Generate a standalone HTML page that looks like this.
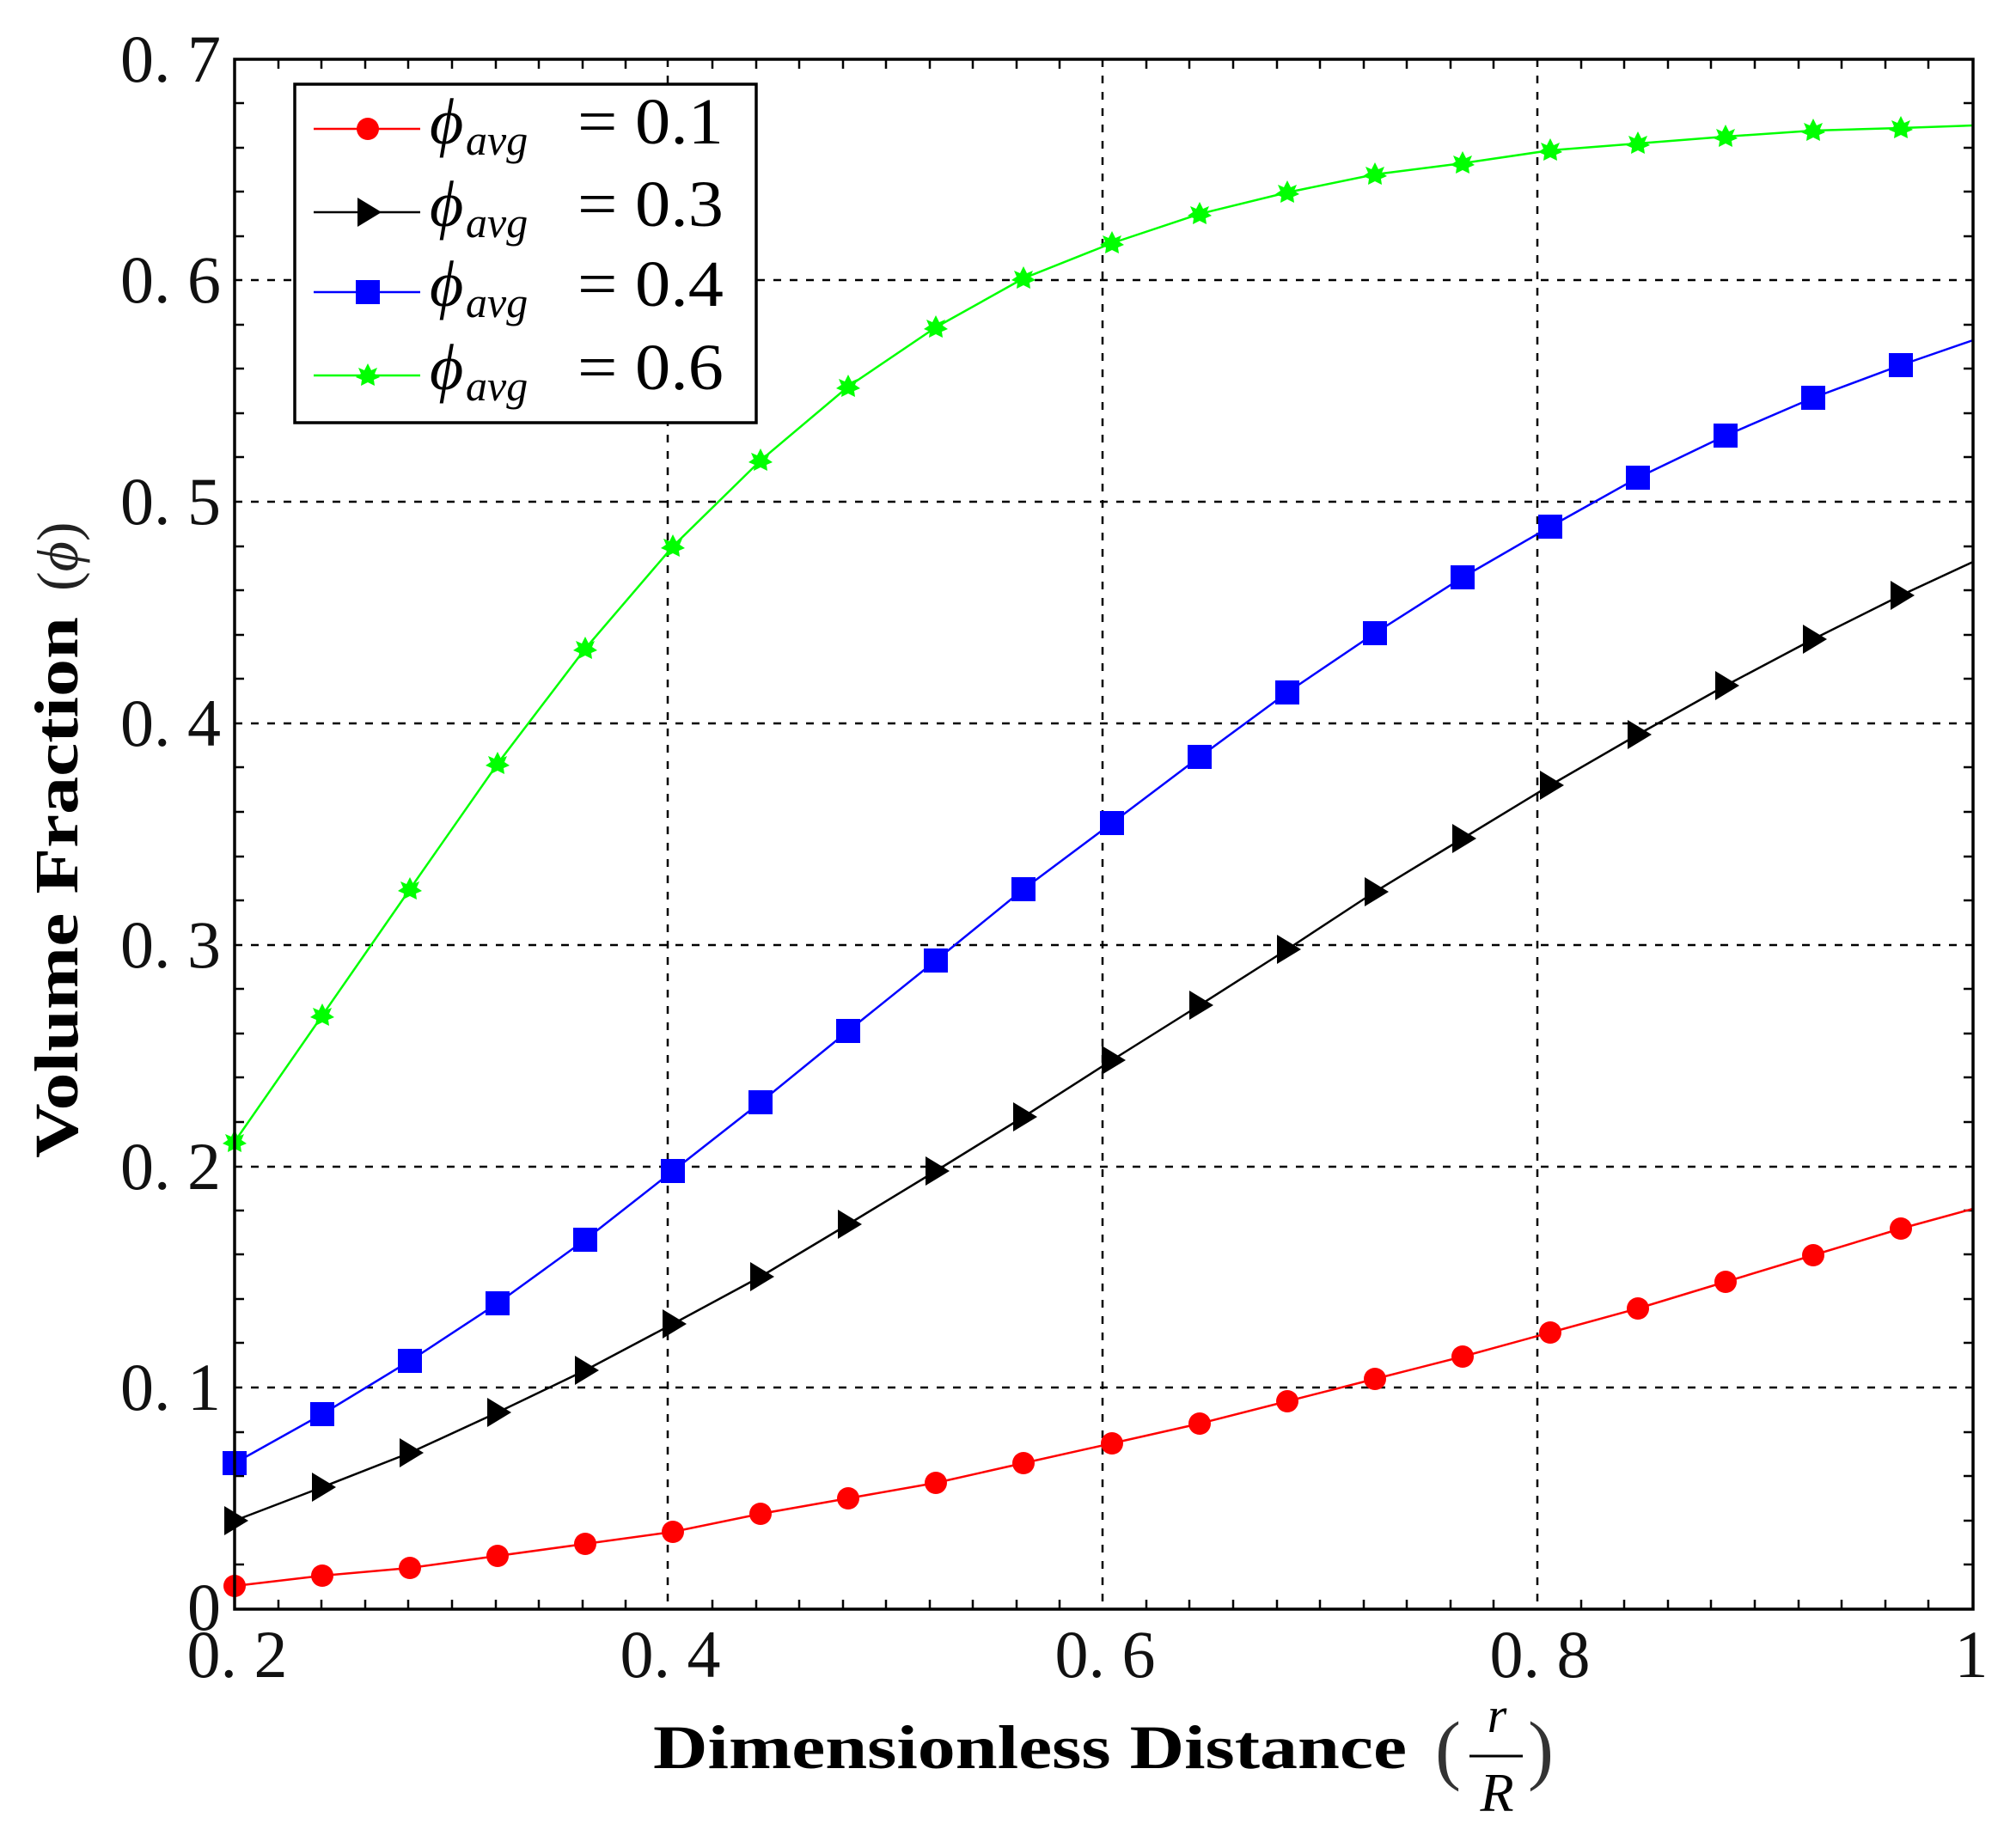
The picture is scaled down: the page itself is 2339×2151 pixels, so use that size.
<!DOCTYPE html>
<html><head><meta charset="utf-8"><style>
html,body{margin:0;padding:0;background:#fff;}
svg{display:block;}
</style></head><body>
<svg width="2339" height="2151" viewBox="0 0 2339 2151" xmlns="http://www.w3.org/2000/svg" font-family="Liberation Serif, serif">
<rect width="2339" height="2151" fill="#fff"/>
<defs>
<circle id="mc" r="13" fill="#f00"/>
<rect id="ms" x="-14" y="-14" width="28" height="28" fill="#00f"/>
<polygon id="mt" points="-12,-17 16,0 -12,17" fill="#000"/>
<polygon id="mg" points="0,-14 4,-6 11,-9 8,-2 14,2 7,5 8,12 0,8 -8,12 -7,5 -14,2 -8,-2 -11,-9 -4,-6" fill="#0f0"/>
</defs>
<g stroke="#000" stroke-width="2.5" stroke-dasharray="9,10" fill="none">
<line x1="777" y1="69" x2="777" y2="1873"/>
<line x1="1283" y1="69" x2="1283" y2="1873"/>
<line x1="1789" y1="69" x2="1789" y2="1873"/>
<line x1="273" y1="1615" x2="2296" y2="1615"/>
<line x1="273" y1="1358" x2="2296" y2="1358"/>
<line x1="273" y1="1100" x2="2296" y2="1100"/>
<line x1="273" y1="842" x2="2296" y2="842"/>
<line x1="273" y1="584" x2="2296" y2="584"/>
<line x1="273" y1="326" x2="2296" y2="326"/>
</g>
<g stroke="#000" stroke-width="2.5">
<path d="M324,1873v-11M374,1873v-11M425,1873v-11M475,1873v-11M526,1873v-11M577,1873v-11M627,1873v-11M678,1873v-11M728,1873v-11M829,1873v-11M880,1873v-11M930,1873v-11M981,1873v-11M1031,1873v-11M1082,1873v-11M1132,1873v-11M1183,1873v-11M1233,1873v-11M1334,1873v-11M1384,1873v-11M1435,1873v-11M1486,1873v-11M1536,1873v-11M1587,1873v-11M1637,1873v-11M1688,1873v-11M1738,1873v-11M1840,1873v-11M1890,1873v-11M1941,1873v-11M1991,1873v-11M2042,1873v-11M2093,1873v-11M2143,1873v-11M2194,1873v-11M2244,1873v-11"/>
<path d="M324,69v11M374,69v11M425,69v11M475,69v11M526,69v11M577,69v11M627,69v11M678,69v11M728,69v11M829,69v11M880,69v11M930,69v11M981,69v11M1031,69v11M1082,69v11M1132,69v11M1183,69v11M1233,69v11M1334,69v11M1384,69v11M1435,69v11M1486,69v11M1536,69v11M1587,69v11M1637,69v11M1688,69v11M1738,69v11M1840,69v11M1890,69v11M1941,69v11M1991,69v11M2042,69v11M2093,69v11M2143,69v11M2194,69v11M2244,69v11"/>
<path d="M273,1821h11M273,1770h11M273,1718h11M273,1667h11M273,1563h11M273,1512h11M273,1460h11M273,1409h11M273,1306h11M273,1254h11M273,1203h11M273,1151h11M273,1048h11M273,997h11M273,945h11M273,893h11M273,790h11M273,739h11M273,687h11M273,636h11M273,532h11M273,481h11M273,429h11M273,378h11M273,275h11M273,223h11M273,172h11M273,120h11"/>
<path d="M2296,1821h-11M2296,1770h-11M2296,1718h-11M2296,1667h-11M2296,1563h-11M2296,1512h-11M2296,1460h-11M2296,1409h-11M2296,1306h-11M2296,1254h-11M2296,1203h-11M2296,1151h-11M2296,1048h-11M2296,997h-11M2296,945h-11M2296,893h-11M2296,790h-11M2296,739h-11M2296,687h-11M2296,636h-11M2296,532h-11M2296,481h-11M2296,429h-11M2296,378h-11M2296,275h-11M2296,223h-11M2296,172h-11M2296,120h-11"/>
</g>
<g fill="none" stroke-width="2.5">
<polyline stroke="#f00" points="273,1846 375,1834 477,1825 579,1811 681,1797 783,1783 885,1762 987,1744 1089,1726 1191,1703 1294,1680 1396,1657 1498,1631 1600,1605 1702,1579 1804,1551 1906,1523 2008,1492 2110,1461 2212,1430 2296,1407"/>
<polyline stroke="#000" points="273,1770 375,1731 477,1691 579,1644 681,1595 783,1541 885,1486 987,1425 1089,1363 1191,1300 1294,1234 1396,1170 1498,1105 1600,1038 1702,976 1804,914 1906,855 2008,798 2110,744 2212,693 2296,654"/>
<polyline stroke="#00f" points="273,1703 375,1646 477,1584 579,1517 681,1443 783,1363 885,1283 987,1200 1089,1118 1191,1035 1294,958 1396,881 1498,806 1600,737 1702,672 1804,613 1906,556 2008,507 2110,463 2212,425 2296,396"/>
<polyline stroke="#0f0" points="273,1329 375,1182 477,1035 579,889 681,755 783,636 885,536 987,450 1089,381 1191,324 1294,283 1396,249 1498,224 1600,203 1702,190 1804,175 1906,167 2008,159 2110,152 2212,149 2296,146"/>
</g>
<g>
<use href="#mc" x="273" y="1846"/><use href="#mc" x="375" y="1834"/><use href="#mc" x="477" y="1825"/><use href="#mc" x="579" y="1811"/><use href="#mc" x="681" y="1797"/><use href="#mc" x="783" y="1783"/><use href="#mc" x="885" y="1762"/><use href="#mc" x="987" y="1744"/><use href="#mc" x="1089" y="1726"/><use href="#mc" x="1191" y="1703"/><use href="#mc" x="1294" y="1680"/><use href="#mc" x="1396" y="1657"/><use href="#mc" x="1498" y="1631"/><use href="#mc" x="1600" y="1605"/><use href="#mc" x="1702" y="1579"/><use href="#mc" x="1804" y="1551"/><use href="#mc" x="1906" y="1523"/><use href="#mc" x="2008" y="1492"/><use href="#mc" x="2110" y="1461"/><use href="#mc" x="2212" y="1430"/>
<use href="#mt" x="273" y="1770"/><use href="#mt" x="375" y="1731"/><use href="#mt" x="477" y="1691"/><use href="#mt" x="579" y="1644"/><use href="#mt" x="681" y="1595"/><use href="#mt" x="783" y="1541"/><use href="#mt" x="885" y="1486"/><use href="#mt" x="987" y="1425"/><use href="#mt" x="1089" y="1363"/><use href="#mt" x="1191" y="1300"/><use href="#mt" x="1294" y="1234"/><use href="#mt" x="1396" y="1170"/><use href="#mt" x="1498" y="1105"/><use href="#mt" x="1600" y="1038"/><use href="#mt" x="1702" y="976"/><use href="#mt" x="1804" y="914"/><use href="#mt" x="1906" y="855"/><use href="#mt" x="2008" y="798"/><use href="#mt" x="2110" y="744"/><use href="#mt" x="2212" y="693"/>
<use href="#ms" x="273" y="1703"/><use href="#ms" x="375" y="1646"/><use href="#ms" x="477" y="1584"/><use href="#ms" x="579" y="1517"/><use href="#ms" x="681" y="1443"/><use href="#ms" x="783" y="1363"/><use href="#ms" x="885" y="1283"/><use href="#ms" x="987" y="1200"/><use href="#ms" x="1089" y="1118"/><use href="#ms" x="1191" y="1035"/><use href="#ms" x="1294" y="958"/><use href="#ms" x="1396" y="881"/><use href="#ms" x="1498" y="806"/><use href="#ms" x="1600" y="737"/><use href="#ms" x="1702" y="672"/><use href="#ms" x="1804" y="613"/><use href="#ms" x="1906" y="556"/><use href="#ms" x="2008" y="507"/><use href="#ms" x="2110" y="463"/><use href="#ms" x="2212" y="425"/>
<use href="#mg" x="273" y="1329"/><use href="#mg" x="375" y="1182"/><use href="#mg" x="477" y="1035"/><use href="#mg" x="579" y="889"/><use href="#mg" x="681" y="755"/><use href="#mg" x="783" y="636"/><use href="#mg" x="885" y="536"/><use href="#mg" x="987" y="450"/><use href="#mg" x="1089" y="381"/><use href="#mg" x="1191" y="324"/><use href="#mg" x="1294" y="283"/><use href="#mg" x="1396" y="249"/><use href="#mg" x="1498" y="224"/><use href="#mg" x="1600" y="203"/><use href="#mg" x="1702" y="190"/><use href="#mg" x="1804" y="175"/><use href="#mg" x="1906" y="167"/><use href="#mg" x="2008" y="159"/><use href="#mg" x="2110" y="152"/><use href="#mg" x="2212" y="149"/>
</g>
<rect x="273" y="69" width="2023" height="1804" fill="none" stroke="#000" stroke-width="3.5"/>
<rect x="343" y="98" width="537" height="394" fill="#fff" stroke="#000" stroke-width="3.5"/>
<g stroke-width="2.5">
<line x1="365" y1="150" x2="489" y2="150" stroke="#f00"/><use href="#mc" x="428" y="150"/>
<line x1="365" y1="247" x2="489" y2="247" stroke="#000"/><use href="#mt" x="428" y="247"/>
<line x1="365" y1="340" x2="489" y2="340" stroke="#00f"/><use href="#ms" x="428" y="340"/>
<line x1="365" y1="437" x2="489" y2="437" stroke="#0f0"/><use href="#mg" x="428" y="437"/>
</g>
<g font-size="76" fill="#000">
<text x="500" y="167" font-style="italic">ϕ</text><text x="542" y="180" font-size="50" font-style="italic">avg</text><text x="672" y="167" textLength="170" lengthAdjust="spacingAndGlyphs">= 0.1</text>
<text x="500" y="263" font-style="italic">ϕ</text><text x="542" y="276" font-size="50" font-style="italic">avg</text><text x="672" y="263" textLength="170" lengthAdjust="spacingAndGlyphs">= 0.3</text>
<text x="500" y="356" font-style="italic">ϕ</text><text x="542" y="369" font-size="50" font-style="italic">avg</text><text x="672" y="356" textLength="170" lengthAdjust="spacingAndGlyphs">= 0.4</text>
<text x="500" y="453" font-style="italic">ϕ</text><text x="542" y="466" font-size="50" font-style="italic">avg</text><text x="672" y="453" textLength="170" lengthAdjust="spacingAndGlyphs">= 0.6</text>
</g>
<g font-size="78" fill="#111" text-anchor="end">
<text x="257" y="1897">0</text>
<text x="257" y="1641">0. 1</text>
<text x="257" y="1384">0. 2</text>
<text x="257" y="1126">0. 3</text>
<text x="257" y="868">0. 4</text>
<text x="257" y="610">0. 5</text>
<text x="257" y="352">0. 6</text>
<text x="257" y="95">0. 7</text>
</g>
<g font-size="78" fill="#111" text-anchor="middle">
<text x="276" y="1952">0. 2</text>
<text x="780" y="1952">0. 4</text>
<text x="1286" y="1952">0. 6</text>
<text x="1792" y="1952">0. 8</text>
<text x="2294" y="1952">1</text>
</g>
<text x="760" y="2058" font-size="72" font-weight="bold" textLength="877" lengthAdjust="spacingAndGlyphs">Dimensionless Distance</text>
<text x="1670" y="2066" font-size="90" fill="#333">(</text>
<text x="1778" y="2066" font-size="90" fill="#333">)</text>
<text x="1742" y="2016" font-size="58" font-style="italic" text-anchor="middle">r</text>
<line x1="1710" y1="2044" x2="1772" y2="2044" stroke="#000" stroke-width="3"/>
<text x="1742" y="2108" font-size="64" font-style="italic" text-anchor="middle">R</text>
<g transform="translate(90,1348) rotate(-90)">
<text x="0" y="0" font-size="72" font-weight="bold" textLength="630" lengthAdjust="spacingAndGlyphs">Volume Fraction</text>
<text x="660" y="0" font-size="68" fill="#222">(<tspan font-style="italic">ϕ</tspan>)</text>
</g>
</svg>
</body></html>
